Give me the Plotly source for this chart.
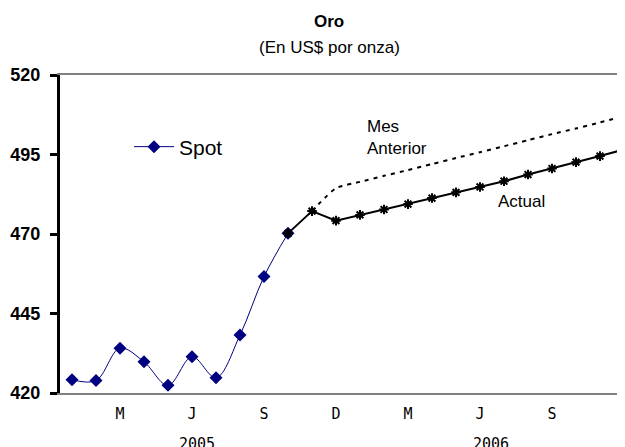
import plotly.graph_objects as go

# ---- data ----
categorias = [f"{m}-{a}" for a in ("2005", "2006") for m in
              ("Ene", "Feb", "Mar", "Abr", "May", "Jun", "Jul", "Ago", "Sep", "Oct", "Nov", "Dic")]
tick_cats = ["Mar-2005", "Jun-2005", "Sep-2005", "Dic-2005",
             "Mar-2006", "Jun-2006", "Sep-2006", "Dic-2006"]
tick_text = ["M", "J", "S", "D", "M", "J", "S", "D"]

spot = [424.2, 423.9, 434.1, 429.8, 422.4, 431.4, 424.8, 438.2, 456.6, 470.2]
actual = [470.2, 477.2, 474.2, 476.0, 477.7, 479.4, 481.3, 483.1, 484.8,
          486.6, 488.7, 490.6, 492.6, 494.5, 496.6]
mes_anterior = [477.2, 484.4, 486.4, 488.3, 490.1, 492.0, 493.9, 495.7,
                497.6, 499.5, 501.4, 503.2, 505.1, 507.1]
y_ticks = [420, 445, 470, 495, 520]

FONT = "Liberation Sans, Arial, sans-serif"
MONO = "DejaVu Sans Mono, monospace"

# layout geometry (figure pixels; page shows the figure offset by the body margin)
OFF = 7
L, T, B = 52, 67, 62
W, H = 625, 447
PW, PH = W - L, H - T - B


def px(sx):
    return (sx - OFF - L) / PW


def py(sy):
    return (H - B - (sy - OFF)) / PH


fig = go.Figure()
fig.add_trace(go.Scatter(
    x=categorias[10:10 + len(mes_anterior)], y=mes_anterior, mode="lines",
    line=dict(color="black", width=2, dash="4px,5px", shape="spline", smoothing=0.6),
    showlegend=False, hoverinfo="skip"))
fig.add_trace(go.Scatter(
    x=categorias[:len(spot)], y=spot, mode="lines+markers", name="Spot",
    line=dict(color="#000080", width=1, shape="spline"),
    marker=dict(symbol="diamond", size=10, color="#000080")))
fig.add_trace(go.Scatter(
    x=categorias[9:9 + len(actual)], y=actual, mode="lines+markers",
    line=dict(color="black", width=2),
    marker=dict(symbol="asterisk-open", size=8, line=dict(color="black", width=2)),
    showlegend=False))

fig.update_layout(
    width=W, height=H,
    margin=dict(l=L, r=0, t=T, b=B, pad=0),
    paper_bgcolor="white", plot_bgcolor="white",
    font=dict(family=FONT, color="black"),
    showlegend=True,
    legend=dict(x=px(128), y=py(146), xanchor="left", yanchor="middle",
                bgcolor="rgba(0,0,0,0)", font=dict(size=21, family=FONT),
                itemwidth=40),
    xaxis=dict(type="category", categoryorder="array", categoryarray=categorias,
               range=[-0.5, -0.5 + PW / 24.0], tickvals=tick_cats, ticktext=tick_text,
               ticks="", showgrid=False, showline=True, linecolor="#808080",
               linewidth=2, mirror=True, zeroline=False, automargin=False,
               ticklabelstandoff=6,
               tickfont=dict(family=MONO, size=15, color="black")),
    yaxis=dict(range=[420, 520], tickvals=y_ticks, ticks="outside", ticklen=7,
               tickwidth=3, tickcolor="black", showline=True, linecolor="black",
               linewidth=3, showgrid=False, zeroline=False, automargin=False,
               ticklabelstandoff=6,
               tickfont=dict(family=FONT, size=18, color="black", weight="bold")),
)

fig.add_annotation(text="<b>Oro</b>", xref="paper", yref="paper", x=px(328), y=py(20),
                   xanchor="center", yanchor="middle", showarrow=False,
                   font=dict(size=17, family=FONT))
fig.add_annotation(text="(En US$ por onza)", xref="paper", yref="paper", x=px(328),
                   y=py(46), xanchor="center", yanchor="middle", showarrow=False,
                   font=dict(size=17, family=FONT))
fig.add_annotation(text="Mes<br>Anterior", xref="paper", yref="paper",
                   x=px(364), y=py(136), xanchor="left",
                   yanchor="middle", align="left", showarrow=False,
                   font=dict(size=17, family=FONT))
fig.add_annotation(text="Actual", xref="paper", yref="paper",
                   x=px(495), y=py(200), xanchor="left",
                   yanchor="middle", showarrow=False, font=dict(size=17, family=FONT))
for txt, sx in (("2005", 196), ("2006", 490)):
    fig.add_annotation(text=txt, xref="paper", yref="paper", x=px(sx),
                       y=py(443), xanchor="center", yanchor="middle", showarrow=False,
                       font=dict(size=15, family=MONO))

fig.write_html("out.html")
